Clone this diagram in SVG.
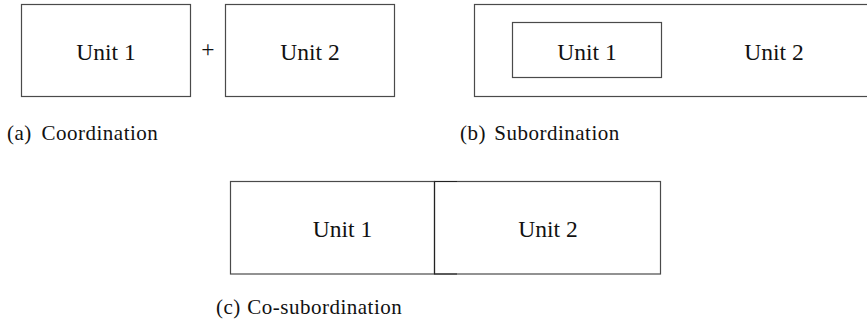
<svg xmlns="http://www.w3.org/2000/svg" width="867" height="323" viewBox="0 0 867 323">
  <style>
    .box { fill: none; stroke: #4a4a4a; stroke-width: 1.2; }
    .dark { stroke: #222; stroke-width: 1; }
    .unit { font-family: "Liberation Serif", serif; font-size: 23.5px; fill: #111; text-anchor: middle; }
    .cap { font-family: "Liberation Serif", serif; font-size: 21px; fill: #111; letter-spacing: 0.5px; }
  </style>
  <rect width="867" height="323" fill="#fff"/>

  <!-- (a) Coordination -->
  <g id="coord-unit1">
    <rect class="box" x="21.5" y="4.5" width="169" height="92"/>
    <text class="unit" x="106" y="59.5">Unit 1</text>
  </g>
  <g id="coord-plus">
    <text class="unit" x="208" y="56.5" font-size="19">+</text>
  </g>
  <g id="coord-unit2">
    <rect class="box" x="225.5" y="4.5" width="169" height="92"/>
    <text class="unit" x="310" y="59.5">Unit 2</text>
  </g>
  <text class="cap" y="140"><tspan x="7">(a)</tspan><tspan x="41.5">Coordination</tspan></text>

  <!-- (b) Subordination -->
  <g id="sub-unit2">
    <rect class="box" x="474.5" y="4.5" width="400" height="92"/>
    <text class="unit" x="774" y="60">Unit 2</text>
  </g>
  <g id="sub-unit1">
    <rect class="box" x="512.5" y="22.5" width="149" height="55"/>
    <text class="unit" x="587" y="60">Unit 1</text>
  </g>
  <text class="cap" y="140"><tspan x="460">(b)</tspan><tspan x="494.3">Subordination</tspan></text>

  <!-- (c) Co-subordination -->
  <g id="cosub-unit1">
    <rect class="box" x="230.5" y="181.5" width="204" height="92.5"/>
    <text class="unit" x="342.5" y="237">Unit 1</text>
  </g>
  <g id="cosub-unit2">
    <rect class="box" x="434.5" y="181.5" width="226" height="92.5"/>
    <line class="dark" x1="434.5" y1="181.5" x2="457" y2="181.5"/>
    <line class="dark" x1="434.5" y1="274" x2="457" y2="274"/>
    <line class="dark" x1="434.5" y1="181.5" x2="434.5" y2="274"/>
    <text class="unit" x="548" y="237">Unit 2</text>
  </g>
  <text class="cap" y="314"><tspan x="216">(c)</tspan><tspan x="247.3">Co-subordination</tspan></text>

  <g id="connectors"/>
</svg>
